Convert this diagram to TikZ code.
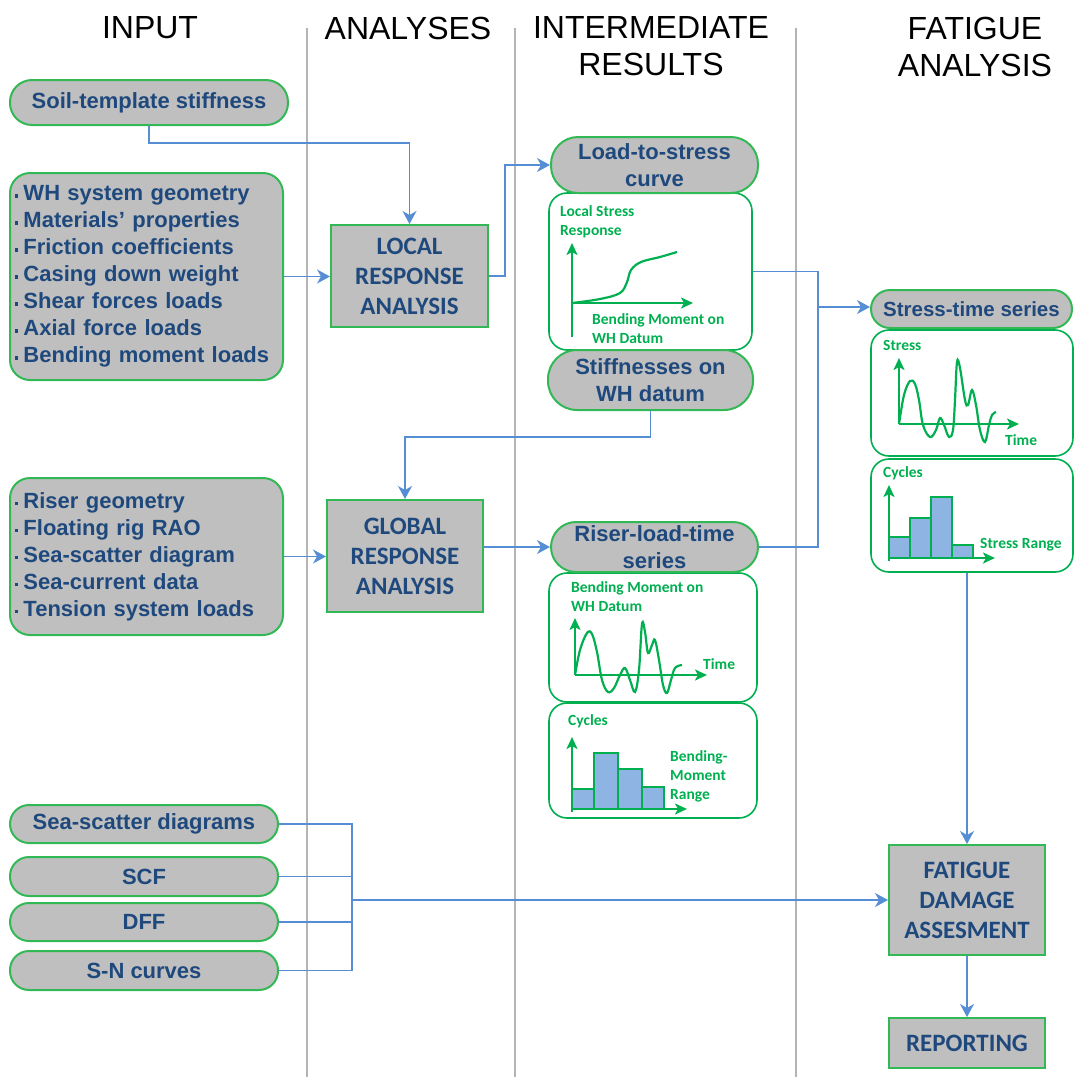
\documentclass[tikz,border=0pt]{standalone}
\usepackage{fontspec}
\setmainfont{Liberation Sans}
\newfontfamily\calibri{Carlito}
\usetikzlibrary{arrows.meta}
\definecolor{boxgray}{RGB}{191,191,191}
\definecolor{boxgreen}{RGB}{50,185,85}
\definecolor{chgreen}{RGB}{0,176,80}
\definecolor{txtblue}{RGB}{31,73,125}
\definecolor{linkblue}{RGB}{85,142,213}
\definecolor{sepgray}{RGB}{180,180,180}
\definecolor{barblue}{RGB}{141,180,226}
\newcommand{\sqb}{\rule[3pt]{3.5pt}{3.5pt}\hspace{5pt}}

\begin{document}
\begin{tikzpicture}[x=1pt,y=-1pt,
  colhead/.style={font=\fontsize{32}{37}\selectfont, align=center},
  pill/.style={rectangle, rounded corners=#1, draw=boxgreen, line width=2pt, fill=boxgray, text=txtblue, font=\fontsize{22}{27}\selectfont\bfseries, align=center, inner xsep=0pt, inner ysep=0pt},
  pill/.default=19pt,
  listbox/.style={rectangle, rounded corners=20pt, draw=boxgreen, line width=2pt, fill=boxgray, text=txtblue, font=\fontsize{22}{27}\selectfont\bfseries, align=left, inner xsep=5pt, minimum width=273pt, text width=263pt},
  anbox/.style={rectangle, draw=boxgreen, line width=2pt, fill=boxgray, text=txtblue, font=\calibri\fontsize{25}{30}\selectfont\bfseries, align=center},
  chartbox/.style={rectangle, rounded corners=18pt, draw=chgreen, line width=1.6pt, fill=white},
  chartlbl/.style={text=chgreen, font=\calibri\fontsize{15.5}{19}\selectfont\bfseries, align=left, anchor=west, inner sep=0pt},
  chartaxis/.style={draw=chgreen, line width=2.2pt, -{Stealth[length=12pt,width=11pt,inset=3pt]}},
  trace/.style={draw=chgreen, line width=2.2pt, smooth, tension=0.6},
  histbar/.style={draw=chgreen, line width=2.2pt, fill=barblue},
  lane/.style={draw=sepgray, line width=1.5pt},
  wire/.style={draw=linkblue, line width=1.3pt},
  link/.style={wire, -{Stealth[length=13pt,width=14pt,inset=4pt]}}
]
\useasboundingbox (0,0) rectangle (1075,1077);
% columns
\draw[lane] (307,28) -- (307,1077);
\draw[lane] (515,28) -- (515,1077);
\draw[lane] (796,28) -- (796,1077);
\node[colhead] (hin) at (150,28) {INPUT};
\node[colhead] (han) at (408,28) {ANALYSES};
\node[colhead] (hir) at (651,46.5) {INTERMEDIATE\\RESULTS};
\node[colhead] (hfa) at (975,46.5) {FATIGUE\\ANALYSIS};
% input
\node[pill=22pt, minimum width=278pt, minimum height=45pt] (soil) at (149,102.5) {Soil-template stiffness};
\node[listbox, minimum height=207pt] (whin) at (146.5,276.5) {\sqb WH system geometry\\\sqb Materials’ properties\\\sqb Friction coefficients\\\sqb Casing down weight\\\sqb Shear forces loads\\\sqb Axial force loads\\\sqb Bending moment loads};
\node[listbox, minimum height=157pt] (rsin) at (146.5,556.5) {\sqb Riser geometry\\\sqb Floating rig RAO\\\sqb Sea-scatter diagram\\\sqb Sea-current data\\\sqb Tension system loads};
\node[pill, minimum width=268pt, minimum height=38pt] (ssd) at (144,824) {Sea-scatter diagrams};
\node[pill, minimum width=268pt, minimum height=39pt] (scf) at (144,876.5) {SCF};
\node[pill, minimum width=268pt, minimum height=38pt] (dff) at (144,922) {DFF};
\node[pill, minimum width=268pt, minimum height=39pt] (snc) at (144,970.5) {S-N curves};
% analyses
\node[anbox, minimum width=157pt, minimum height=102pt] (lra) at (409.5,276) {LOCAL\\RESPONSE\\ANALYSIS};
\node[anbox, minimum width=156pt, minimum height=112pt] (gra) at (405,556) {GLOBAL\\RESPONSE\\ANALYSIS};
% intermediate results
\node[chartbox, minimum width=203pt, minimum height=157pt] (ltsc) at (650.5,271.5) {};
\node[pill=27pt, minimum width=207pt, minimum height=56pt] (lts) at (654.5,165) {Load-to-stress\\curve};
\node[pill=29pt, minimum width=205pt, minimum height=60pt] (stf) at (650.5,380) {Stiffnesses on\\WH datum};
\node[chartbox, minimum width=208pt, minimum height=129pt] (rltc) at (653,637.5) {};
\node[chartbox, minimum width=208pt, minimum height=115pt] (rlth) at (653,760.5) {};
\node[pill=25pt, minimum width=207pt, minimum height=50pt] (rlt) at (654.5,547) {Riser-load-time\\series};
% fatigue analysis
\node[chartbox, minimum width=202pt, minimum height=126pt] (stsc) at (972,393) {};
\node[chartbox, minimum width=202pt, minimum height=113pt] (stsh) at (972,515.5) {};
\node[pill, minimum width=201pt, minimum height=38pt, font=\fontsize{20.5}{25}\selectfont\bfseries] (sts) at (971.5,309) {Stress-time series};
\node[anbox, minimum width=156pt, minimum height=110pt] (fda) at (967,900) {FATIGUE\\DAMAGE\\ASSESMENT};
\node[anbox, minimum width=156pt, minimum height=50pt] (rep) at (967,1043) {REPORTING};

% load-to-stress chart
\node[chartlbl] (ltsy) at (560,221.5) {Local Stress\\Response};
\draw[chartaxis] (572,337) -- (572,243);
\draw[chartaxis] (572,303) -- (693,303);
\draw[trace] plot coordinates {(572,303) (600,299) (620,293) (627,282) (631,270) (641,262) (660,257) (677,252)};
\node[chartlbl] (ltsx) at (592,328.5) {Bending Moment on\\WH Datum};
% riser-load-time charts
\node[chartlbl] (rlty) at (571,596.5) {Bending Moment on\\WH Datum};
\draw[chartaxis] (575,675) -- (575,618);
\draw[chartaxis] (575,675) -- (707,675);
\draw[trace] plot coordinates {(575,675) (580,650) (587,633) (592,634) (597,652) (602,680) (608,692) (614,688) (620,675) (625,668) (630,680) (635,692) (639,670) (642,624) (645,632) (648,653) (652,645) (655,640) (659,660) (663,685) (667,693) (671,680) (675,668) (682,665)};
\node[chartlbl] (rltx) at (703,664) {Time};
\node[chartlbl] (rlhy) at (568,721) {Cycles};
\draw[histbar] (572,789) rectangle (594,809);
\draw[histbar] (594,753) rectangle (618,809);
\draw[histbar] (618,769) rectangle (642,809);
\draw[histbar] (642,787) rectangle (664,809);
\draw[chartaxis] (572,812) -- (572,737);
\draw[chartaxis] (572,809) -- (687,809);
\node[chartlbl] (rlhx) at (670,776) {Bending-\\Moment\\Range};
% stress-time charts
\node[chartlbl] (stsy) at (883,345) {Stress};
\draw[chartaxis] (899,424) -- (899,358);
\draw[chartaxis] (899,424) -- (1019,424);
\draw[trace] plot coordinates {(899,424) (904,395) (910,381) (915,384) (919,400) (923,425) (930,437) (936,430) (940,418) (944,425) (949,437) (953,430) (955,400) (957,362) (960,368) (965,400) (968,405) (972,390) (976,405) (980,430) (985,442) (989,425) (992,415) (996,412)};
\node[chartlbl] (stsx) at (1005,440) {Time};
\node[chartlbl] (sthy) at (883,473) {Cycles};
\draw[histbar] (889,537) rectangle (910,558);
\draw[histbar] (910,518) rectangle (931,558);
\draw[histbar] (931,497) rectangle (952,558);
\draw[histbar] (952,545) rectangle (973,558);
\draw[chartaxis] (889,561) -- (889,485);
\draw[chartaxis] (889,558) -- (995,558);
\node[chartlbl] (sthx) at (980,545) {Stress Range};

% connectors
\draw[link] (soil.south) -- ++(0,17) -| (lra.north);
\draw[link] (whin.east) -- (whin.east -| lra.west);
\draw[link] (lra.east) -- ++(16,0) |- (lts.west);
\draw[link] (stf.south) -- ++(0,26) -| (gra.north);
\draw[link] (rsin.east) -- (rsin.east -| gra.west);
\draw[link] (gra.east |- rlt.west) -- (rlt.west);
\coordinate (jn) at (818,307);
\draw[wire] (ltsc.east) -| (jn);
\draw[wire] (rlt.east) -| (jn);
\draw[link] (jn) -- (jn -| sts.west);
\draw[link] (fda.north |- stsh.south) -- (fda.north);
\coordinate (bus) at (352,900);
\draw[wire] (ssd.east) -| (bus);
\draw[wire] (snc.east) -| (bus);
\draw[wire] (scf.east) -- (scf.east -| bus);
\draw[wire] (dff.east) -- (dff.east -| bus);
\draw[link] (bus) -- (bus -| fda.west);
\draw[link] (fda.south) -- (rep.north);
\end{tikzpicture}
\end{document}
